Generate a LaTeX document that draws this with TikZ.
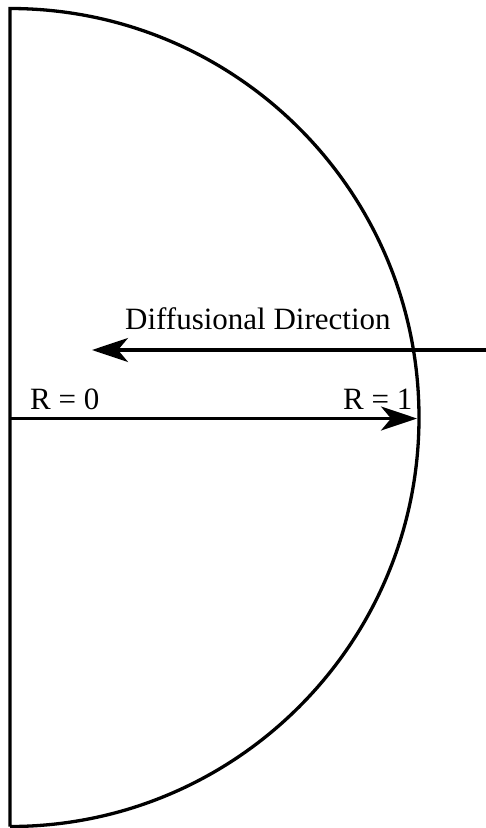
\documentclass[tikz,border=0pt]{standalone}
\usepackage{fontspec}
\setmainfont{Liberation Serif}
\usetikzlibrary{arrows.meta}
\begin{document}
\begin{tikzpicture}[x=1pt,y=-1pt,
  thick line/.style={line width=3.3pt},
  arr/.style={thick line,-{Stealth[length=36pt,width=24pt,inset=10pt]}},
  lbl/.style={font=\fontsize{31}{33}\selectfont,anchor=base west,inner sep=0pt}]
\useasboundingbox (0,0) rectangle (486,828);
\coordinate (top) at (10,8.5);
\coordinate (bot) at (10,826.5);
\coordinate (r0) at (10,418.5);
\coordinate (r1) at (417,418.5);
\coordinate (dstart) at (486,350);
\coordinate (dend) at (92,350);
\draw[thick line] (bot) -- (top) arc[start angle=-90,end angle=90,radius=409];
\draw[arr] (r0) -- (r1);
\draw[arr] (dstart) -- (dend);
\node[lbl] (t1) at (125,329) {Diffusional Direction};
\node[lbl] (t2) at (30,409) {R = 0};
\node[lbl] (t3) at (343,409) {R = 1};
\end{tikzpicture}
\end{document}
